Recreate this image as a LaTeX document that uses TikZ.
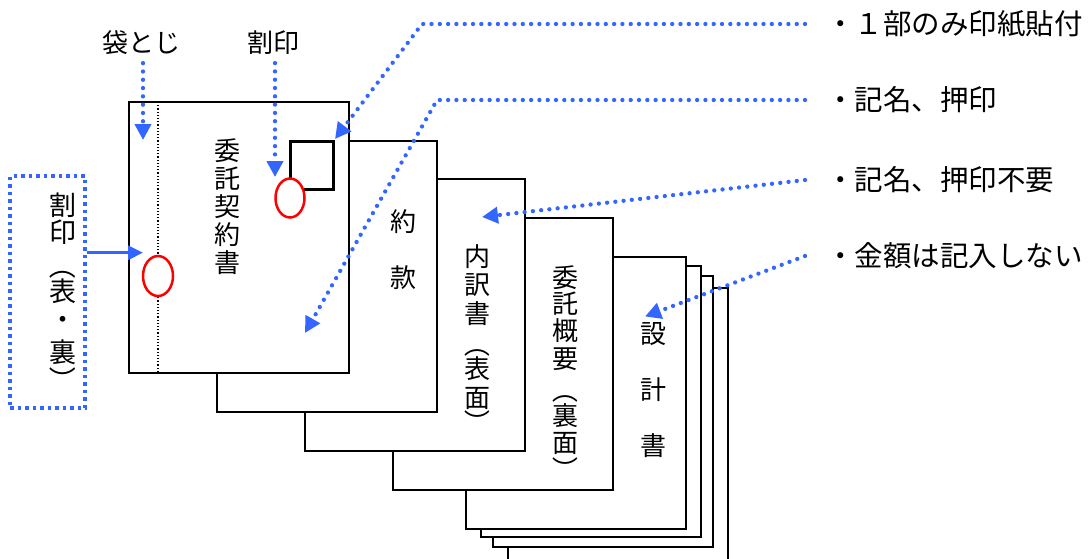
\documentclass[tikz,border=0pt]{standalone}
\usepackage{fontspec}
\newfontfamily\jp{Noto Sans CJK JP}
\usetikzlibrary{arrows.meta,shapes.geometric}
\definecolor{aBlue}{RGB}{51,102,255}
\definecolor{sealRed}{RGB}{255,0,0}
\begin{document}
\begin{tikzpicture}[x=1pt,y=-1pt,
  sheet/.style={draw=black,line width=2pt,fill=white},
  vch/.style={font=\jp\fontsize{26}{26}\selectfont,inner sep=0pt},
  vpar/.style={vch,rotate=-90},
  bch/.style={font=\jp\fontsize{27}{27}\selectfont,inner sep=0pt},
  bpar/.style={bch,rotate=-90},
  lbl/.style={font=\jp\fontsize{28.5}{28.5}\selectfont,inner sep=0pt,anchor=west},
  toplbl/.style={font=\jp\fontsize{26}{26}\selectfont,inner sep=0pt},
  dotarrow/.style={aBlue,line width=4.3pt,line cap=round,dash pattern=on 0pt off 8.3pt,-{Triangle[length=16pt,width=16pt]}},
  seal/.style={draw=sealRed,line width=2.5pt,fill=white}
]
\useasboundingbox (0,0) rectangle (1090,558);
\clip (0,0) rectangle (1090,558);

% sheets, back to front
\draw[sheet] (508,288) rectangle (728,580);
\draw[sheet] (493,276) rectangle (713,547);
\draw[sheet] (481,266) rectangle (701,537);
\draw[sheet] (466,257) rectangle (686,529);
\draw[sheet] (393,218) rectangle (613,490);
\draw[sheet] (305,179) rectangle (525,451);
\draw[sheet] (217,141) rectangle (437,412);
\draw[sheet] (129,102) rectangle (349,373);

% binding line on the first sheet
\draw[black,line width=1.2pt,dash pattern=on 1.2pt off 2pt] (158,102) -- (158,373);
% stamp square
\draw[black,line width=3pt] (290,141) rectangle (333,189);
% seals
\node[seal,ellipse,minimum width=29pt,minimum height=39pt,inner sep=0pt] (seal1) at (290,198) {};
\node[seal,ellipse,minimum width=30pt,minimum height=40pt,inner sep=0pt] (seal2) at (158,276) {};

% sheet 1 text
\node[vch] (p1a) at (227,151) {委};
\node[vch] (p1b) at (227,179) {託};
\node[vch] (p1c) at (227,207) {契};
\node[vch] (p1d) at (227,235) {約};
\node[vch] (p1e) at (227,263) {書};
% sheet 2 text
\node[vch] (p2a) at (403,222) {約};
\node[vch] (p2b) at (403,278) {款};
% sheet 3 text
\node[vch] (p3a) at (477,256.5) {内};
\node[vch] (p3b) at (477,285) {訳};
\node[vch] (p3c) at (477,313.5) {書};
\node[vpar] (p3d) at (477,344) {（};
\node[vch] (p3e) at (477,368.5) {表};
\node[vch] (p3f) at (477,398.5) {面};
\node[vpar] (p3g) at (477,422.5) {）};
% sheet 4 text
\node[vch] (p4a) at (565,277.5) {委};
\node[vch] (p4b) at (565,303.5) {託};
\node[vch] (p4c) at (565,330.5) {概};
\node[vch] (p4d) at (565,359.5) {要};
\node[vpar] (p4e) at (565,390.5) {（};
\node[vch] (p4f) at (565,415.5) {裏};
\node[vch] (p4g) at (565,443.5) {面};
\node[vpar] (p4h) at (565,469.5) {）};
% sheet 5 text
\node[vch] (p5a) at (653,334) {設};
\node[vch] (p5b) at (653,390) {計};
\node[vch] (p5c) at (653,446) {書};

% left box
\node[draw=aBlue,line width=3.5pt,dash pattern=on 3.5pt off 4pt,minimum width=75pt,minimum height=232pt,inner sep=0pt] (hbox) at (47.5,292) {};
\node[bch] (ha) at (62.5,205) {割};
\node[bch] (hb) at (62.5,232.5) {印};
\node[bpar] (hc) at (62.5,265.5) {（};
\node[bch] (hd) at (62.5,291.5) {表};
\node[bch] (he) at (62.5,323) {・};
\node[bch] (hf) at (62.5,352.5) {裏};
\node[bpar] (hg) at (62.5,380) {）};
\coordinate (harr) at (143,252.7);
\draw[aBlue,line width=3pt,-{Triangle[length=15pt,width=14pt]}] (hbox.east |- harr) -- (harr);

% top labels
\node[toplbl] (fukuro) at (141,43) {袋とじ};
\node[toplbl] (wari) at (273.5,43) {割印};
\coordinate (fukuroTip) at (143,140);
\coordinate (wariTip) at (275,177);
\draw[dotarrow] (fukuro.south -| fukuroTip) ++(0,8) -- (fukuroTip);
\draw[dotarrow] (wari.south -| wariTip) ++(0,8) -- (wariTip);

% right labels
\node[lbl] (r1) at (826,24) {・１部のみ印紙貼付};
\node[lbl] (r2) at (826,100) {・記名、押印};
\node[lbl] (r3) at (826,180) {・記名、押印不要};
\node[lbl] (r4) at (826,256) {・金額は記入しない};

\coordinate (r1s) at (805,24);
\coordinate (r1c) at (422,24);
\coordinate (r1t) at (335,139);
\coordinate (r2s) at (805,100);
\coordinate (r2c) at (437,100);
\coordinate (r2t) at (305,333);
\coordinate (r3s) at (805,180);
\coordinate (r3t) at (482,217);
\coordinate (r4s) at (805,256);
\coordinate (r4t) at (645,316.5);

\draw[dotarrow] (r1s) -- (r1c) -- (r1t);
\draw[dotarrow] (r2s) -- (r2c) -- (r2t);
\draw[dotarrow] (r3s) -- (r3t);
\draw[dotarrow] (r4s) -- (r4t);
\end{tikzpicture}
\end{document}
